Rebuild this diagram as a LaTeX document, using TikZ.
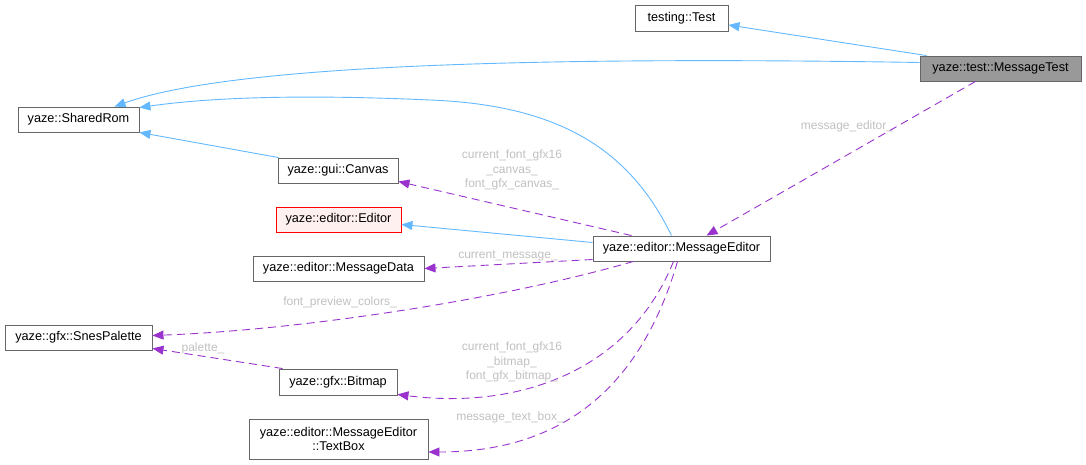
\documentclass[tikz,border=0pt]{standalone}
\usepackage{fontspec}
\setmainfont{Liberation Sans}
\usetikzlibrary{arrows.meta,calc}
\definecolor{inhcol}{HTML}{63B8FF}
\definecolor{usecol}{HTML}{9A32CD}
\definecolor{lblcol}{HTML}{C0C0C0}
\definecolor{bordcol}{HTML}{666666}
\definecolor{graycol}{HTML}{999999}
\definecolor{redfill}{HTML}{FFF0F0}
\begin{document}
\begin{tikzpicture}[x=1pt,y=-1pt,
  cls/.style={draw=bordcol, line width=0.9pt, fill=white, inner sep=0pt, align=center,
    font=\fontsize{12.7}{14.5}\selectfont},
  inhe/.style={draw=inhcol, line width=0.9pt, -{Triangle[length=11pt,width=9pt]}},
  usee/.style={draw=usecol, line width=0.9pt, dash pattern=on 8pt off 5pt,
    -{Triangle[length=11pt,width=9pt]}},
  lab/.style={text=lblcol, font=\fontsize{12}{14.5}\selectfont, align=center, inner sep=0pt}]
\useasboundingbox (0,0) rectangle (1086,465);

% nodes
\node[cls, minimum width=93pt, minimum height=26pt] (test) at (681.5,18) {testing::Test};
\node[cls, fill=graycol, minimum width=161pt, minimum height=25pt] (mtest) at (1000.5,68.5) {yaze::test::MessageTest};
\node[cls, minimum width=121pt, minimum height=25pt] (srom) at (78.5,119.5) {yaze::SharedRom};
\node[cls, minimum width=120pt, minimum height=25pt] (canvas) at (338,170.5) {yaze::gui::Canvas};
\node[cls, draw=red, fill=redfill, minimum width=125pt, minimum height=25pt] (editor) at (338.5,219.5) {yaze::editor::Editor};
\node[cls, minimum width=171pt, minimum height=25pt] (mdata) at (338.5,268.5) {yaze::editor::MessageData};
\node[cls, minimum width=177pt, minimum height=25pt] (medit) at (681.5,248.5) {yaze::editor::MessageEditor};
\node[cls, minimum width=147pt, minimum height=25pt] (snes) at (78.5,337.5) {yaze::gfx::SnesPalette};
\node[cls, minimum width=118pt, minimum height=26pt] (bitmap) at (338,382) {yaze::gfx::Bitmap};
\node[cls, minimum width=179pt, minimum height=40pt] (textbox) at (338.5,439) {yaze::editor::MessageEditor\\::TextBox};

% inheritance edges
\draw[inhe] ($(mtest.north west)+(7,0)$) -- ($(test.east)+(0,7)$);
\draw[inhe] ($(mtest.west)+(0,-6)$) .. controls (400,54) and (200,76) .. ($(srom.north)+(36,0)$);
\draw[inhe] ($(medit.north)+(-10,0)$) .. controls (630,150) and (560,105) .. (430,100)
  .. controls (320,95) and (220,96) .. ($(srom.north east)+(0,1)$);
\draw[inhe] ($(canvas.north west)+(1,0)$) -- (srom.south east);
\draw[inhe] ($(medit.west)+(0,-6)$) -- ($(editor.east)+(0,5)$);

% usage edges
\draw[usee] ($(mtest.south)+(-25,0)$) -- ($(medit.north)+(25,0)$);
\draw[usee] ($(medit.north)+(-50,0)$) -- ($(canvas.east)+(0,11)$);
\draw[usee] ($(medit.west)+(0,11)$) -- (mdata.east);
\draw[usee] ($(medit.south)+(-48,0)$) .. controls (500,300) and (300,330) .. ($(snes.east)+(0,-2)$);
\draw[usee] ($(bitmap.north west)+(4,0)$) -- ($(snes.south east)+(0,-2)$);
\draw[usee] ($(medit.south)+(-8,0)$) .. controls (630,370) and (520,410) .. ($(bitmap.south east)+(0,-1)$);
\draw[usee] ($(medit.south)+(-4,0)$) .. controls (640,390) and (560,452) .. ($(textbox.east)+(0,13)$);

% labels
\node[lab] (l1) at (847,126) {message\_editor\_};
\node[lab] (l2) at (512,170) {current\_font\_gfx16\\\_canvas\_\\font\_gfx\_canvas\_};
\node[lab] (l3) at (508,256) {current\_message\_};
\node[lab] (l4) at (340,302) {font\_preview\_colors\_};
\node[lab] (l5) at (203,348) {palette\_};
\node[lab] (l6) at (512,362) {current\_font\_gfx16\\\_bitmap\_\\font\_gfx\_bitmap\_};
\node[lab] (l7) at (510,417) {message\_text\_box\_};
\end{tikzpicture}
\end{document}
